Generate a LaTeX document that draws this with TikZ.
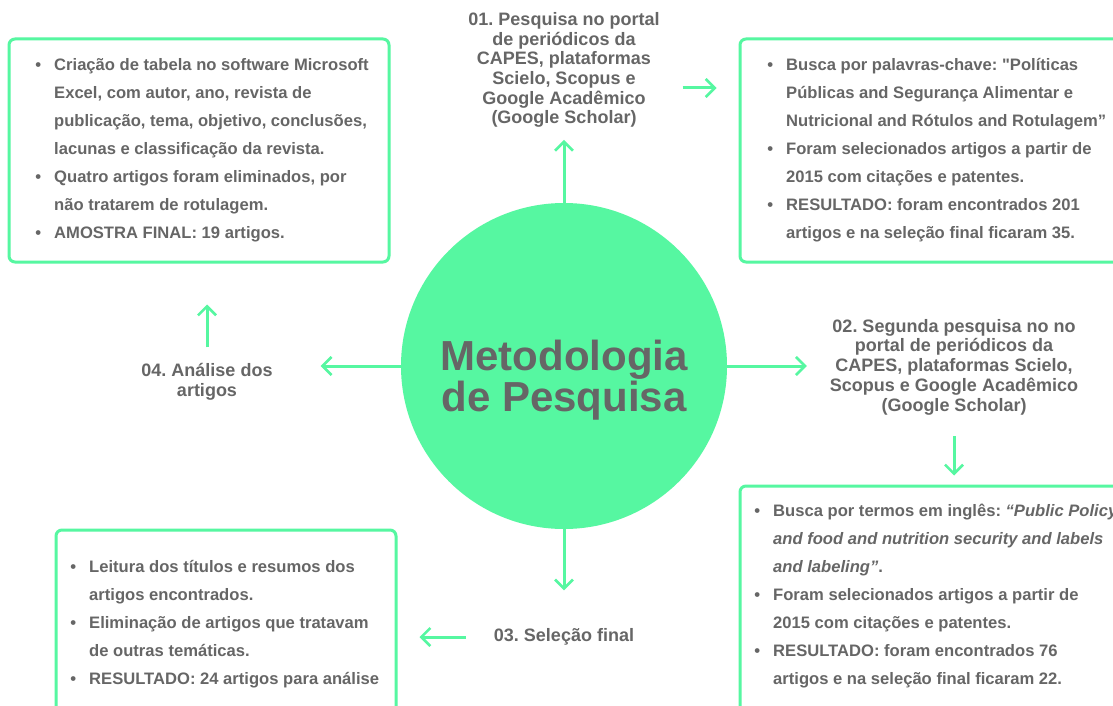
\documentclass[tikz,border=0pt]{standalone}
\usepackage{fontspec}
\setmainfont{Liberation Sans}[Ligatures=TeXOff]
\usepackage{xcolor}
\definecolor{grn}{HTML}{56F7A1}
\definecolor{txt}{HTML}{666666}
\usetikzlibrary{arrows.meta,positioning,calc}
\tikzset{
  >={Straight Barb[length=9pt,width=18pt,line width=2.6pt]},
  box/.style={draw=grn,line width=3pt,rounded corners=6pt,inner sep=0pt},
  btxt/.style={anchor=north west,inner sep=0pt,align=left,text=txt,font=\fontsize{16.6}{28}\selectfont\bfseries},
  lab/.style={inner sep=0pt,align=center,text=txt,font=\fontsize{18}{19.7}\selectfont\bfseries},
  arr/.style={->,draw=grn,line width=3pt},
}
\newcommand{\bul}{\llap{\textbullet\hspace{13pt}}}
\frenchspacing
\begin{document}
\begin{tikzpicture}[x=1pt,y=-1pt]
\fill[white] (0,0) rectangle (1113,706);
\clip (0,0) rectangle (1113,706);
% centre
\node[circle,fill=grn,minimum size=326pt,inner sep=0pt] (c) at (564,366) {};
\node[inner sep=0pt,align=center,text=txt,font=\fontsize{42}{41}\selectfont\bfseries] (ct) at (564,380) {Metodologia\\de Pesquisa};
% steps
\node[lab] (l1) at (564,70) {01. Pesquisa no portal\\de periódicos da\\CAPES, plataformas\\Scielo, Scopus e\\Google Acadêmico\\(Google Scholar)};
\node[lab] (l2) at (954,367) {02. Segunda pesquisa no no\\portal de periódicos da\\CAPES, plataformas Scielo,\\Scopus e Google Acadêmico\\(Google Scholar)};
\node[lab] (l3) at (564,637) {03. Seleção final};
\node[lab] (l4) at (207,382) {04. Análise dos\\artigos};
% boxes
\node[box,minimum width=380pt,minimum height=223pt] (b1) at (199,150.5) {};
\node[box,minimum width=383pt,minimum height=223pt] (b2) at (931.5,150.5) {};
\node[box,minimum width=383pt,minimum height=230pt] (b3) at (931.5,601) {};
\node[box,minimum width=340pt,minimum height=186pt] (b4) at (226,623) {};
\node[btxt] (t1) at (54,58) {\bul Criação de tabela no software Microsoft\\Excel, com autor, ano, revista de\\publicação, tema, objetivo, conclusões,\\lacunas e classificação da revista.\\\bul Quatro artigos foram eliminados, por\\não tratarem de rotulagem.\\\bul AMOSTRA FINAL: 19 artigos.};
\node[btxt] (t2) at (786,58) {\bul Busca por palavras-chave: "Políticas\\Públicas and Segurança Alimentar e\\Nutricional and Rótulos and Rotulagem”\\\bul Foram selecionados artigos a partir de\\2015 com citações e patentes.\\\bul RESULTADO: foram encontrados 201\\artigos e na seleção final ficaram 35.};
\node[btxt] (t3) at (773,504) {\bul Busca por termos em inglês: \textit{“Public Policy}\\\textit{and food and nutrition security and labels}\\\textit{and labeling”}.\\\bul Foram selecionados artigos a partir de\\2015 com citações e patentes.\\\bul RESULTADO: foram encontrados 76\\artigos e na seleção final ficaram 22.};
\node[btxt] (t4) at (89,560) {\bul Leitura dos títulos e resumos dos\\artigos encontrados.\\\bul Eliminação de artigos que tratavam\\de outras temáticas.\\\bul RESULTADO: 24 artigos para análise};
% arrows
\draw[arr,shorten >=12pt] (c.north) -- (l1.south);
\draw[arr] ($(l1.east)+(23,18)$) -- ($(l1.east -| b2.west)+(-22,18)$);
\draw[arr,shorten >=23pt] (c.east) -- (c.east -| l2.west);
\draw[arr,shorten <=21pt,shorten >=9pt] (l2.south) -- (l2.south |- b3.north);
\draw[arr,shorten >=38pt] (c.south) -- (l3.north);
\draw[arr,shorten <=28pt,shorten >=22pt] (l3.west) -- (l3.west -| b4.east);
\draw[arr,shorten >=48pt] (c.west) -- (c.west -| l4.east);
\draw[arr,shorten <=16pt,shorten >=41pt] (l4.north) -- (l4.north |- b1.south);
\end{tikzpicture}
\end{document}
